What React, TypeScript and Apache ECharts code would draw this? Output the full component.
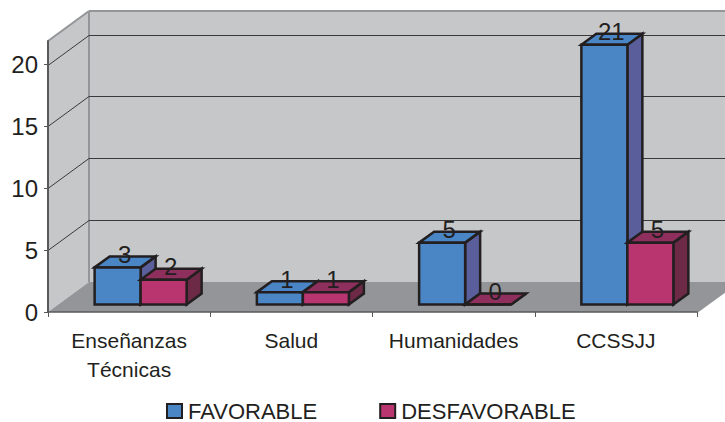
import React, { useEffect, useRef } from "react";
import * as echarts from "echarts";

const categories = ["Enseñanzas\nTécnicas", "Salud", "Humanidades", "CCSSJJ"];
const favorable = [3, 1, 5, 21];
const desfavorable = [2, 1, 0, 5];
const yTicks = [0, 5, 10, 15, 20];
const backGridValues = [5, 10, 15, 20];
const yMax = 21.9;

const FONT = "'Liberation Sans', Arial, sans-serif";
const INK = "#231f20";
const WALL_DX = 41;
const WALL_DY = -30;
const BASE_DX = 11.5;
const BASE_DY = -7.5;
const DEPTH_DX = 15;
const DEPTH_DY = -11;
const BAR_W = 46;

const barRenderer = (offset: number, front: string, top: string, side: string) => (_p: any, api: any) => {
  const cat = api.value(0);
  const val = api.value(1);
  const p0 = api.coord([cat, 0]);
  const p1 = api.coord([cat, val]);
  const l = p0[0] + BASE_DX + (offset < 0 ? -BAR_W : 0);
  const r = l + BAR_W;
  const b = p0[1] + BASE_DY;
  const t = p1[1] + BASE_DY;
  const stroke = { stroke: INK, lineWidth: 2.5, lineJoin: "miter" };
  return {
    type: "group",
    children: [
      {
        type: "polygon",
        shape: { points: [[r, b], [r + DEPTH_DX, b + DEPTH_DY], [r + DEPTH_DX, t + DEPTH_DY], [r, t]] },
        style: { fill: side, ...stroke },
      },
      {
        type: "polygon",
        shape: { points: [[l, t], [l + DEPTH_DX, t + DEPTH_DY], [r + DEPTH_DX, t + DEPTH_DY], [r, t]] },
        style: { fill: top, ...stroke },
      },
      {
        type: "rect",
        shape: { x: l, y: t, width: BAR_W, height: b - t },
        style: { fill: front, ...stroke },
      },
      {
        type: "text",
        style: {
          x: (l + r) / 2 + 7,
          y: t - 13,
          text: String(val),
          fill: INK,
          font: `24px ${FONT}`,
          align: "center",
          verticalAlign: "middle",
        },
      },
    ],
  };
};

const renderWalls = (params: any, api: any) => {
  const cs = params.coordSys;
  const x0 = cs.x;
  const x1 = cs.x + cs.width;
  const yb = api.coord([0, 0])[1];
  const yt = api.coord([0, yMax])[1];
  const wall = "#c6c7c9";
  const floor = "#939598";
  const edge = "#939598";
  const line = (a: number[], b: number[]) => ({
    type: "line",
    shape: { x1: a[0], y1: a[1], x2: b[0], y2: b[1] },
    style: { stroke: edge, lineWidth: 2 },
  });
  return {
    type: "group",
    children: [
      {
        type: "polygon",
        shape: { points: [[x0, yb], [x0 + WALL_DX, yb + WALL_DY], [x0 + WALL_DX, yt + WALL_DY], [x0, yt]] },
        style: { fill: wall },
      },
      {
        type: "rect",
        shape: { x: x0 + WALL_DX, y: yt + WALL_DY, width: cs.width, height: yb - yt },
        style: { fill: wall },
      },
      {
        type: "polygon",
        shape: { points: [[x0, yb], [x0 + WALL_DX, yb + WALL_DY], [x1 + WALL_DX, yb + WALL_DY], [x1, yb]] },
        style: { fill: floor },
      },
      line([x0, yt], [x0 + WALL_DX, yt + WALL_DY]),
      line([x0 + WALL_DX, yt + WALL_DY], [x1 + WALL_DX, yt + WALL_DY]),
      line([x0 + WALL_DX, yt + WALL_DY], [x0 + WALL_DX, yb + WALL_DY]),
      line([x1, yb], [x1 + WALL_DX, yb + WALL_DY]),
    ],
  };
};

const renderGrid = (params: any, api: any) => {
  const cs = params.coordSys;
  const y = Math.round(api.coord([0, api.value(1)])[1] + WALL_DY) + 0.5;
  const xb = cs.x + WALL_DX;
  return {
    type: "polyline",
    shape: { points: [[cs.x, y - WALL_DY], [xb, y], [cs.x + cs.width + WALL_DX, y]] },
    style: { fill: "none", stroke: "#3a3a3c", lineWidth: 1 },
  };
};

export default function App() {
  const ref = useRef<HTMLDivElement>(null);
  useEffect(() => {
    const chart = echarts.init(ref.current!, undefined, { renderer: "svg" });
    chart.setOption({
      animation: false,
      backgroundColor: "#ffffff",
      grid: { left: 48, right: 28, top: 41, bottom: 110 },
      legend: {
        left: 166,
        top: 400,
        itemWidth: 15,
        itemHeight: 14,
        itemGap: 62,
        padding: 0,
        icon: "rect",
        textStyle: { fontFamily: FONT, fontSize: 22, color: INK, padding: [0, 0, 0, 1] },
        data: ["FAVORABLE", "DESFAVORABLE"],
      },
      xAxis: {
        type: "category",
        data: categories,
        z: 5,
        axisLine: { lineStyle: { color: "#58595b", width: 1.5 } },
        axisTick: { show: true, interval: 0, length: 5, lineStyle: { color: "#58595b", width: 1 } },
        axisLabel: { interval: 0, hideOverlap: false, fontFamily: FONT, fontSize: 21, color: INK, lineHeight: 29, margin: 14 },
      },
      yAxis: {
        type: "value",
        min: 0,
        max: yMax,
        interval: 5,
        z: 5,
        splitLine: { show: false },
        axisLine: { show: true, lineStyle: { color: "#58595b", width: 2 } },
        axisTick: { show: true, length: 4, customValues: yTicks, lineStyle: { color: "#58595b", width: 1 } },
        axisLabel: { fontFamily: FONT, fontSize: 24, color: INK, margin: 10, customValues: yTicks },
      },
      series: [
        { type: "custom", name: "walls", silent: true, z: 1, renderItem: renderWalls, encode: { x: 0, y: 1 }, data: [[0, yMax]] },
        { type: "custom", name: "grid", silent: true, z: 2, renderItem: renderGrid, encode: { x: 0, y: 1 }, data: backGridValues.map((v) => [0, v]) },
        {
          type: "custom",
          name: "FAVORABLE",
          z: 3,
          renderItem: barRenderer(-1, "#4a86c6", "#4a86c6", "#5a5f9b"),
          encode: { x: 0, y: 1 },
          itemStyle: { color: "#4a86c6", borderColor: INK, borderWidth: 2 },
          data: favorable.map((v, i) => [i, v]),
        },
        {
          type: "custom",
          name: "DESFAVORABLE",
          z: 4,
          renderItem: barRenderer(1, "#b83570", "#8e2f5e", "#6c2a47"),
          encode: { x: 0, y: 1 },
          itemStyle: { color: "#b83570", borderColor: INK, borderWidth: 2 },
          data: desfavorable.map((v, i) => [i, v]),
        },
      ],
    });
    return () => chart.dispose();
  }, []);
  return <div ref={ref} style={{ position: "fixed", left: 0, top: 0, width: 725, height: 422 }} />;
}
